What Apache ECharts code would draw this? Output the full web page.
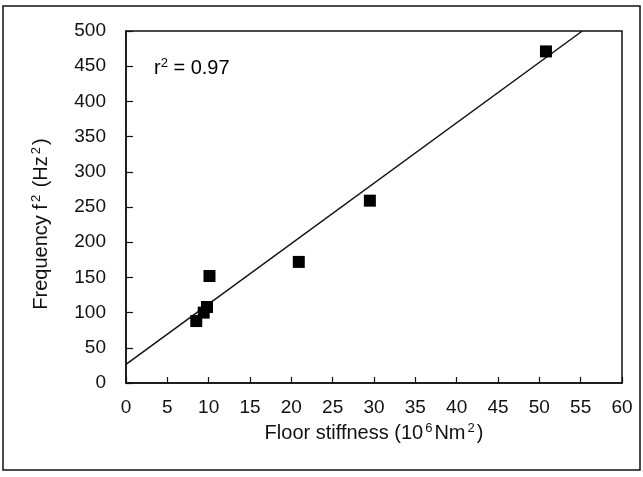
<!DOCTYPE html>
<html><head><meta charset="utf-8">
<script src="https://cdn.jsdelivr.net/npm/echarts@6/dist/echarts.min.js"></script>
<style>html,body{margin:0;padding:0;background:#fff}#c{width:643px;height:477px}</style>
</head><body><div id="c"></div>
<script>
// Data
const stiffness = [8.5, 9.4, 9.8, 10.1, 20.9, 29.5, 50.8];
const freqSq = [88, 100, 108, 152, 172, 259, 471];
const fitX = [0, 55.2];
const fitY = [26.5, 500];
const xTicks = [0,5,10,15,20,25,30,35,40,45,50,55,60];
const yTicks = [0,50,100,150,200,250,300,350,400,450,500];
const r2Label = '0.97';

const font = '"Liberation Sans", Arial, sans-serif';
const chart = echarts.init(document.getElementById('c'), null, {renderer:'canvas'});
const base = {fontFamily: font, fontSize: 20, color: '#111'};
const sup = {fontFamily: font, fontSize: 13, color: '#111', verticalAlign: 'top', padding: [0,2,10,2]};
chart.setOption({
  animation: false,
  backgroundColor: '#fff',
  grid: {left: 126, right: 21, top: 31, bottom: 94, show: true, borderColor: '#111', borderWidth: 1.5},
  xAxis: {
    type: 'value', min: xTicks[0], max: xTicks[xTicks.length-1], interval: 5,
    axisLine: {lineStyle: {color: '#111', width: 1.5}},
    axisTick: {inside: true, length: 6, lineStyle: {color: '#111', width: 1.2}},
    splitLine: {show: false},
    axisLabel: {margin: 15, fontFamily: font, fontSize: 19, color: '#111'},
    name: '{a|Floor stiffness (10}{s|6}{a|Nm}{s|2}{a|)}',
    nameLocation: 'middle', nameGap: 37,
    nameTextStyle: {rich: {a: base, s: sup}}
  },
  yAxis: {
    type: 'value', min: yTicks[0], max: yTicks[yTicks.length-1], interval: 50,
    axisLine: {lineStyle: {color: '#111', width: 1.5}},
    axisTick: {inside: true, length: 7, lineStyle: {color: '#111', width: 1.2}},
    splitLine: {show: false},
    axisLabel: {margin: 20, fontFamily: font, fontSize: 19, color: '#111'},
    name: '{a|Frequency f}{s|2}{a| (Hz}{s|2}{a|)}',
    nameLocation: 'middle', nameGap: 73,
    nameTextStyle: {rich: {a: base, s: sup}, padding: [0, 34, 0, 0]}
  },
  series: [
    {type: 'line', data: fitX.map((x,i)=>[x, fitY[i]]), symbol: 'none',
     lineStyle: {color: '#111', width: 1.5}, z: 2},
    {type: 'scatter', data: stiffness.map((x,i)=>[x, freqSq[i]]), symbol: 'rect', symbolSize: 12,
     itemStyle: {color: '#000', opacity: 1}, z: 3}
  ],
  graphic: [
    {type: 'rect', shape: {x: 3, y: 6, width: 637, height: 464}, style: {fill: 'none', stroke: '#111', lineWidth: 1.5}, z: 0},
    {type: 'text', left: 154, top: 57, style: {text: '{a|r}{s|2}{a| = ' + r2Label + '}', rich: {a: base, s: {fontFamily: font, fontSize: 13, color: '#111', verticalAlign: 'top', padding: [0,0,10,0]}}}}
  ]
});
</script></body></html>
